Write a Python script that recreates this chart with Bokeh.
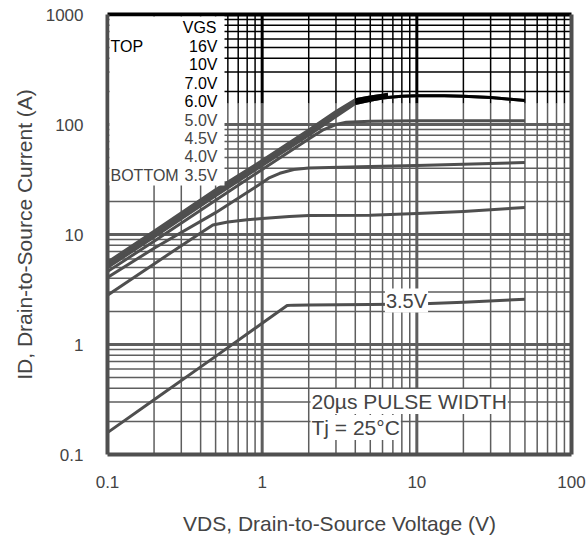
from bokeh.plotting import figure
from bokeh.models import LogAxis, FixedTicker, Label, BoxAnnotation
from bokeh.embed import file_html
from bokeh.resources import INLINE

# ---------------- data ----------------
VDS_16V = [0.1, 0.2, 0.5, 1.0, 2.0, 3.0, 4.0, 5.0, 6.0, 6.5]
ID_16V = [5.6, 10.7, 25.5, 47.0, 89.0, 131.0, 168.0, 178.0, 185.0, 188.0]

VDS_10V = [0.1, 0.2, 0.5, 1.0, 2.0, 3.0, 4.0, 5.0, 6.0, 6.5]
ID_10V = [5.4, 10.3, 24.3, 45.5, 86.0, 127.0, 165.0, 175.0, 182.0, 186.0]

VDS_7V = [0.1, 0.2, 0.5, 1.0, 2.0, 3.0, 4.0, 5.0, 6.0, 6.5]
ID_7V = [5.2, 9.9, 23.4, 44.0, 83.0, 122.0, 162.0, 172.0, 180.0, 184.0]

VDS_6V = [0.1, 0.2, 0.5, 1.0, 2.0, 3.0, 4.0, 5.0, 6.0, 7.0, 8.0, 10.0, 15.0, 20.0, 30.0, 50.0]
ID_6V = [5.0, 9.5, 22.5, 42.5, 80.0, 118.0, 155.0, 166.0, 174.0, 178.0, 181.0, 183.0, 183.0, 181.0, 176.0, 165.0]

VDS_5V = [0.1, 0.2, 0.5, 1.0, 2.0, 2.5, 3.0, 3.5, 5.0, 10.0, 20.0, 50.0]
ID_5V = [4.6, 8.7, 20.5, 39.0, 74.0, 90.0, 100.0, 105.0, 107.0, 108.0, 108.0, 108.0]

VDS_45V = [0.1, 0.2, 0.5, 1.0, 1.1, 1.3, 1.6, 2.0, 5.0, 10.0, 20.0, 50.0]
ID_45V = [4.06, 7.5, 15.8, 29.5, 32.5, 36.0, 39.0, 40.3, 41.5, 42.3, 43.5, 45.2]

VDS_4V = [0.1, 0.2, 0.3, 0.4, 0.48, 0.6, 0.8, 1.0, 1.5, 2.0, 5.0, 10.0, 20.0, 50.0]
ID_4V = [2.8, 5.4, 7.9, 10.3, 12.2, 13.0, 13.6, 14.0, 14.6, 14.9, 15.0, 15.5, 16.2, 17.6]

VDS_35V = [0.1, 0.2, 0.5, 1.0, 1.45, 1.6, 2.0, 5.0, 10.0, 20.0, 50.0]
ID_35V = [0.158, 0.315, 0.78, 1.56, 2.26, 2.28, 2.29, 2.31, 2.34, 2.42, 2.58]

X_TICKS = [0.1, 1, 10, 100]
X_TICK_LABELS = ["0.1", "1", "10", "100"]
Y_TICKS = [0.1, 1, 10, 100, 1000]
Y_TICK_LABELS = ["0.1", "1", "10", "100", "1000"]

LEGEND_TITLE = "VGS"
LEGEND_LABELS = ["16V", "10V", "7.0V", "6.0V", "5.0V", "4.5V", "4.0V", "3.5V"]
LEGEND_TOP = "TOP"
LEGEND_BOTTOM = "BOTTOM"
CURVE_NOTE = "3.5V"
NOTE_1 = "20\u00b5s PULSE WIDTH"
NOTE_2 = "Tj = 25\u00b0C"
X_TITLE = "VDS, Drain-to-Source Voltage (V)"
Y_TITLE = "ID, Drain-to-Source Current (A)"

# ---------------- styling / layout ----------------
FONT = "Liberation Sans"
BLACK = "#000000"
GRAY = "#4f4f4f"
GRID_GRAY = "#5e5e5e"
TEXT_GRAY = "#444444"
SPLIT = 155.0          # above this current the reference is printed darker
SPLIT_PX = 103         # same boundary in canvas pixels
W, H = 588, 540
FL, FR, FT, FB = 107, 571, 14, 454   # frame edges in canvas pixels

p = figure(width=W, height=H, x_axis_type="log", y_axis_type="log",
           x_range=(0.1, 100), y_range=(0.1, 1000),
           output_backend="svg", toolbar_location=None,
           min_border_left=FL, min_border_right=W - FR,
           min_border_top=FT, min_border_bottom=H - FB)
p.background_fill_color = "white"
p.border_fill_color = "white"
p.outline_line_color = None
p.xgrid.visible = False
p.ygrid.visible = False

for ax, ticks, labels, standoff, title, tstand in (
        (p.xaxis[0], X_TICKS, X_TICK_LABELS, 15, X_TITLE, 21),
        (p.yaxis[0], Y_TICKS, Y_TICK_LABELS, 18, Y_TITLE, 7)):
    ax.ticker = FixedTicker(ticks=ticks)
    ax.major_label_overrides = dict(zip(ticks, labels))
    ax.major_label_text_font = FONT
    ax.major_label_text_font_size = "17px"
    ax.major_label_text_color = TEXT_GRAY
    ax.major_label_standoff = standoff
    ax.major_tick_line_color = None
    ax.minor_tick_line_color = None
    ax.axis_line_width = 4
    ax.axis_line_color = GRAY
    ax.axis_label = title
    ax.axis_label_text_font = FONT
    ax.axis_label_text_font_size = "21px"
    ax.axis_label_text_font_style = "normal"
    ax.axis_label_text_color = TEXT_GRAY
    ax.axis_label_standoff = tstand

for loc, color in (("above", BLACK), ("right", GRAY)):
    ax = LogAxis(ticker=FixedTicker(ticks=[]), axis_line_width=4, axis_line_color=color,
                 major_tick_line_color=None, minor_tick_line_color=None,
                 major_label_text_font_size="0px")
    p.add_layout(ax, loc)

# ---------------- grid (drawn as segments so the tone can change at SPLIT) ----------------
x_lo, x_hi = 0.1, 100.0
y_lo, y_hi = 0.1, 1000.0
x_minor = [k * d for d in (0.1, 1, 10) for k in range(2, 10)]
y_minor = [k * d for d in (0.1, 1, 10, 100) for k in range(2, 10)]
x_major = [1, 10]
y_major = [1, 10, 100]

for xs, lw in ((x_minor, 1.5), (x_major, 3)):
    p.segment(x0=xs, y0=[y_lo] * len(xs), x1=xs, y1=[SPLIT] * len(xs), line_color=GRID_GRAY, line_width=lw)
    p.segment(x0=xs, y0=[SPLIT] * len(xs), x1=xs, y1=[y_hi] * len(xs), line_color=BLACK, line_width=lw)
for ys, lw in ((y_minor, 1.5), (y_major, 3)):
    lows = [y for y in ys if y < SPLIT]
    highs = [y for y in ys if y >= SPLIT]
    p.segment(x0=[x_lo] * len(lows), y0=lows, x1=[x_hi] * len(lows), y1=lows, line_color=GRID_GRAY, line_width=lw)
    p.segment(x0=[x_lo] * len(highs), y0=highs, x1=[x_hi] * len(highs), y1=highs, line_color=BLACK, line_width=lw)

# ---------------- curves ----------------
series = [(VDS_35V, ID_35V), (VDS_4V, ID_4V), (VDS_45V, ID_45V), (VDS_5V, ID_5V),
          (VDS_6V, ID_6V), (VDS_7V, ID_7V), (VDS_10V, ID_10V), (VDS_16V, ID_16V)]
for xs, ys in series:
    p.line(xs, ys, line_color=GRAY, line_width=3, line_join="round")
for xs, ys in series:
    hx = [x for x, y in zip(xs, ys) if y >= SPLIT]
    hy = [y for y in ys if y >= SPLIT]
    if len(hx) > 1:
        p.line(hx, hy, line_color=BLACK, line_width=3, line_join="round")

# ---------------- annotations inside the frame (screen units: from frame left / bottom) ----------------
def sx(cx):
    return cx - FL

def sy(cy):
    return FB - cy

def tone(cy):
    return BLACK if cy < SPLIT_PX else TEXT_GRAY

p.add_layout(BoxAnnotation(left=sx(109), right=sx(224), top=sy(16), bottom=sy(185),
                           left_units="screen", right_units="screen",
                           top_units="screen", bottom_units="screen",
                           fill_color="white", fill_alpha=1.0, line_color=None))

def lab(text, cx, cy, size, align="left", color=None, bg=None):
    kw = {}
    if bg:
        kw = dict(background_fill_color=bg, background_fill_alpha=1.0, padding=1)
    p.add_layout(Label(x=sx(cx), y=sy(cy), x_units="screen", y_units="screen", text=text,
                       text_font=FONT, text_font_size=size, text_align=align,
                       text_baseline="middle", text_color=color or tone(cy), **kw))

lab(LEGEND_TITLE, 216, 27, "16px", align="right")
for i, t in enumerate(LEGEND_LABELS):
    lab(t, 217, 46 + i * 18.4, "16px", align="right")
lab(LEGEND_TOP, 110, 46, "16px")
lab(LEGEND_BOTTOM, 110, 46 + 7 * 18.4, "16px")

lab(CURVE_NOTE, 406, 300, "20px", align="center", bg="white")
lab(NOTE_1, 310, 401, "21px", bg="white")
lab(NOTE_2, 310, 427, "21px", bg="white")

open("out.html", "w").write(file_html(p, INLINE))
